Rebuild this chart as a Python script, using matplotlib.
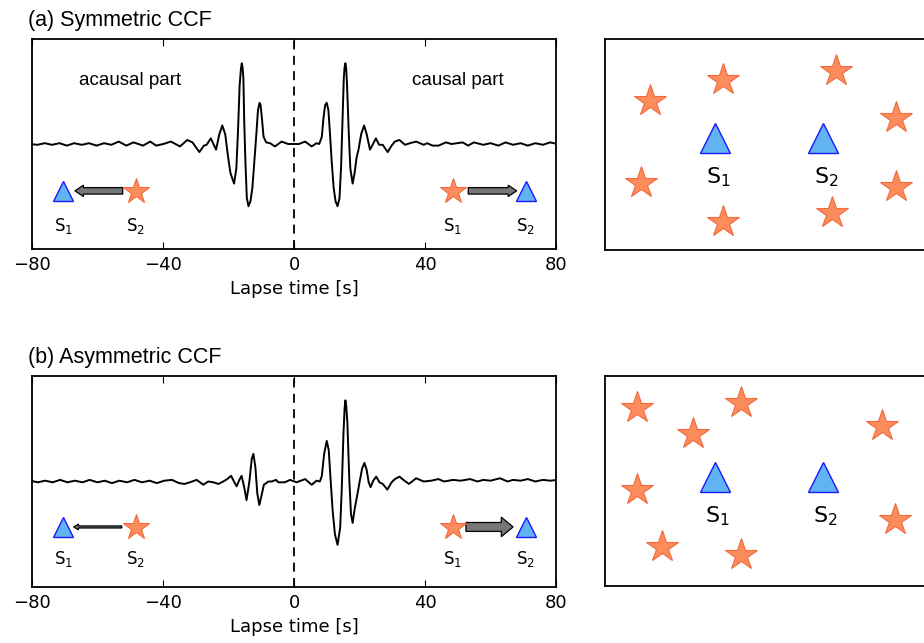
import matplotlib.pyplot as plt

plt.rcParams.update({"font.family": "DejaVu Sans"})

# ---- traces: lapse time [s] and normalised amplitude
sym_time = [-80.5, -78.4, -76.1, -73.9, -71.6, -69.4, -67.1, -64.8, -62.6, -60.3,
            -58.0, -55.8, -53.5, -51.2, -49.0, -46.1, -43.9, -42.1, -39.9, -37.6,
            -34.8, -32.6, -31.0, -28.9, -27.5, -26.7, -25.4, -23.8, -22.8, -21.9,
            -21.0, -20.1, -19.4, -18.3, -17.6, -17.1, -16.6, -16.2, -15.95, -15.7,
            -15.45, -15.2, -14.8, -14.4, -13.9, -13.3, -12.7, -12.1, -11.5, -11.0,
            -10.5, -10.2, -9.8, -9.3, -8.5, -7.3, -5.8, -3.8, -1.8, 0.0,
            1.5, 3.4, 5.4, 6.9, 7.7, 8.5, 9.0, 9.5, 10.0, 10.5,
            11.0, 11.5, 12.1, 12.7, 13.3, 13.9, 14.4, 14.8, 15.2, 15.45,
            15.7, 15.95, 16.2, 16.7, 17.2, 17.9, 18.5, 19.1, 19.7, 20.5,
            21.4, 22.2, 23.2, 24.0, 25.0, 26.0, 27.1, 28.6, 29.8, 30.8,
            32.2, 33.9, 35.4, 37.3, 39.6, 40.7, 42.3, 44.1, 46.4, 48.1,
            49.8, 51.5, 53.2, 54.9, 57.8, 60.0, 62.4, 64.6, 66.9, 69.2,
            71.4, 73.7, 76.0, 78.2, 80.5]
sym_amp = [0.0, -0.01, 0.01, -0.01, 0.01, -0.02, 0.01, -0.01, 0.01, -0.02,
           0.01, -0.01, 0.03, -0.02, 0.02, -0.02, 0.03, -0.02, 0.0, 0.03,
           -0.03, 0.05, 0.02, -0.10, -0.02, -0.01, 0.07, -0.07, 0.12, 0.23,
           0.12, -0.17, -0.36, -0.49, -0.30, 0.16, 0.73, 0.93, 1.0, 0.95,
           0.81, 0.28, -0.26, -0.67, -0.77, -0.71, -0.54, -0.21, 0.12, 0.42,
           0.51, 0.48, 0.32, 0.09, 0.02, 0.01, -0.03, 0.03, 0.0, 0.0,
           0.0, 0.03, -0.03, 0.01, 0.0, 0.09, 0.32, 0.48, 0.51, 0.42,
           0.12, -0.21, -0.54, -0.71, -0.77, -0.67, -0.26, 0.28, 0.81, 0.95,
           1.0, 0.93, 0.73, 0.16, -0.30, -0.49, -0.36, -0.17, -0.07, 0.12,
           0.23, 0.12, -0.07, -0.01, 0.07, -0.01, -0.01, -0.10, -0.02, 0.03,
           0.05, -0.01, 0.01, 0.03, -0.01, 0.01, -0.02, -0.02, 0.02, 0.0,
           0.01, 0.02, -0.02, 0.02, -0.01, 0.01, -0.02, 0.02, -0.01, 0.01,
           -0.02, 0.01, -0.01, 0.02, 0.0]

asym_time = [-80.5, -78.2, -76.0, -73.7, -71.4, -69.2, -66.9, -64.6, -62.4, -60.0,
             -57.8, -55.6, -53.3, -51.0, -48.7, -46.4, -44.1, -41.9, -39.6, -37.3,
             -35.1, -33.4, -31.8, -29.7, -27.7, -26.2, -24.6, -23.1, -21.6, -20.4,
             -19.2, -18.2, -17.5, -16.8, -16.0, -15.2, -14.5, -14.0, -13.6, -12.9,
             -12.4, -11.8, -11.2, -10.6, -9.9, -9.2, -7.8, -6.8, -5.5, -4.8,
             -2.8, -1.2, 0.8, 3.4, 5.4, 6.9, 7.9, 8.5, 9.2, 10.0,
             10.6, 11.2, 11.8, 12.5, 13.3, 14.1, 14.6, 15.1, 15.45, 15.7,
             15.95, 16.3, 16.9, 17.4, 17.9, 18.6, 19.3, 20.1, 20.8, 21.5,
             22.2, 22.8, 23.4, 24.2, 25.1, 26.1, 27.1, 28.5, 29.8, 30.8,
             32.2, 33.4, 35.1, 37.3, 39.6, 41.9, 44.1, 45.8, 48.6, 50.9,
             53.8, 56.0, 57.8, 60.0, 62.9, 65.2, 66.9, 69.2, 71.4, 73.7,
             76.0, 78.2, 80.5]
asym_amp = [0.01, -0.01, 0.01, -0.01, 0.02, -0.01, 0.01, -0.01, 0.02, -0.01,
            0.01, -0.02, 0.01, -0.01, 0.02, -0.01, 0.01, -0.02, 0.01, 0.02,
            -0.02, -0.03, -0.01, 0.02, -0.04, 0.0, -0.01, -0.03, 0.0, 0.03,
            0.07, -0.01, -0.06, 0.01, 0.07, -0.07, -0.23, -0.10, 0.01, 0.28,
            0.34, 0.18, -0.15, -0.29, -0.17, -0.04, 0.0, 0.0, 0.02, -0.01,
            -0.01, 0.02, -0.01, 0.03, -0.04, 0.01, 0.0, 0.07, 0.34, 0.50,
            0.39, 0.01, -0.36, -0.65, -0.78, -0.57, -0.07, 0.59, 0.90, 1.0,
            0.93, 0.72, 0.01, -0.40, -0.51, -0.32, -0.17, 0.01, 0.16, 0.23,
            0.14, -0.01, -0.07, 0.01, 0.06, -0.01, -0.03, -0.10, -0.01, 0.03,
            0.06, 0.02, -0.03, 0.04, 0.0, 0.01, 0.03, 0.0, 0.02, 0.01,
            0.03, 0.0, 0.02, 0.01, 0.04, 0.0, 0.02, 0.01, 0.03, 0.0,
            0.02, 0.01, 0.02]

# ---- station / source sketch inside the trace panels (lapse-time axis units)
acausal_tri_t, acausal_star_t = -70.5, -48.3
causal_star_t, causal_tri_t = 48.4, 70.8
sym_marker_y, sym_label_y = -0.58, -1.02
asym_marker_y, asym_label_y = -0.56, -0.95

# arrows: (tail, head) in lapse time
sym_arrows = [(-52.3, -66.9), (53.2, 68.0)]
asym_arrows = [(-52.6, -67.3), (52.5, 66.9)]

# ---- map panels: station and noise source positions (arbitrary units)
map_station_x = [11.0, 21.8]
map_a_station_y = [11.2, 11.2]
map_b_station_y = [10.9, 10.9]
map_a_src_x = [4.5, 11.8, 23.1, 29.1, 3.6, 29.1, 11.8, 22.7]
map_a_src_y = [14.9, 17.0, 17.9, 13.2, 6.7, 6.3, 2.8, 3.7]
map_b_src_x = [3.2, 13.6, 8.8, 27.8, 3.2, 29.1, 5.7, 13.6]
map_b_src_y = [17.8, 18.3, 15.2, 16.0, 9.6, 6.6, 3.9, 3.1]
station_names = [r"S$_1$", r"S$_2$"]

tri_face, tri_edge = "#62b3f2", "#1a1aff"
star_face, star_edge = "#fd8c5c", "#ef6a3c"
arrow_face = "#777777"

fig = plt.figure(figsize=(9.24, 6.43), dpi=100)
W, H = 924.0, 643.0


def trace_panel(rect, title, t, a, marker_y, label_y, arrows, arrow_sizes, notes):
    ax = fig.add_axes(rect)
    ax.plot(t, a, color="k", lw=1.4)
    ax.axvline(0, color="k", lw=1.3, ls=(0, (5, 3.5)))
    ax.set_xlim(-80, 80)
    ax.set_ylim(-1.3, 1.3)
    ax.set_xticks([-80, -40, 0, 40, 80])
    ax.set_yticks([])
    ax.tick_params(direction="in", top=True, length=5, width=0.8,
                   labelsize=13, pad=5)
    ax.set_xlabel("Lapse time [s]", fontsize=13, labelpad=4)
    for sp in ax.spines.values():
        sp.set_linewidth(1.3)
    ax.text(-0.008, 1.09, title, transform=ax.transAxes, fontsize=15.5,
            family="Liberation Sans", va="center", ha="left")

    ax.plot([acausal_tri_t, causal_tri_t], [marker_y, marker_y], ls="none",
            marker="^", ms=15, mfc=tri_face, mec=tri_edge, mew=1.0)
    ax.plot([acausal_star_t, causal_star_t], [marker_y, marker_y], ls="none",
            marker="*", ms=19, mfc=star_face, mec=star_edge, mew=0.8)
    for (tail, head), (w, hw, hl) in zip(arrows, arrow_sizes):
        ax.arrow(tail, marker_y, head - tail, 0, width=w, head_width=hw,
                 head_length=hl, length_includes_head=True, fc=arrow_face,
                 ec="k", lw=0.9)
    for x, s in zip([acausal_tri_t, acausal_star_t, causal_star_t, causal_tri_t],
                    station_names + station_names):
        ax.text(x, label_y, s, fontsize=12, ha="center", va="center")
    for x, y, s in notes:
        ax.text(x, y, s, fontsize=13.5, family="Liberation Sans",
                ha="center", va="center")
    return ax


def map_panel(rect, height, src_x, src_y, sta_y):
    ax = fig.add_axes(rect)
    ax.set_xlim(0, 39.5)
    ax.set_ylim(0, height)
    ax.set_xticks([])
    ax.set_yticks([])
    for sp in ax.spines.values():
        sp.set_linewidth(1.3)
    ax.plot(src_x, src_y, ls="none", marker="*", ms=24, mfc=star_face,
            mec=star_edge, mew=0.8)
    ax.plot(map_station_x, sta_y, ls="none", marker="^", ms=21,
            mfc=tri_face, mec=tri_edge, mew=1.0)
    for x, y, s in zip(map_station_x, sta_y, station_names):
        ax.text(x + 0.3, y - 3.9, s, fontsize=16, ha="center", va="center")
    return ax


trace_panel([32 / W, 1 - 249 / H, 524 / W, 210 / H], "(a) Symmetric CCF",
            sym_time, sym_amp, sym_marker_y, sym_label_y, sym_arrows,
            [(0.08, 0.14, 2.6), (0.08, 0.14, 2.6)],
            [(-50, 0.79, "acausal part"), (50, 0.79, "causal part")])
trace_panel([32 / W, 1 - 587 / H, 524 / W, 211 / H], "(b) Asymmetric CCF",
            asym_time, asym_amp, asym_marker_y, asym_label_y, asym_arrows,
            [(0.025, 0.07, 1.5), (0.11, 0.24, 3.6)], [])

map_panel([605 / W, 1 - 250 / H, 395 / W, 211 / H], 21.1,
          map_a_src_x, map_a_src_y, map_a_station_y)
map_panel([604.5 / W, 1 - 586 / H, 395 / W, 210 / H], 21.0,
          map_b_src_x, map_b_src_y, map_b_station_y)

fig.savefig("out.png", dpi=100)
